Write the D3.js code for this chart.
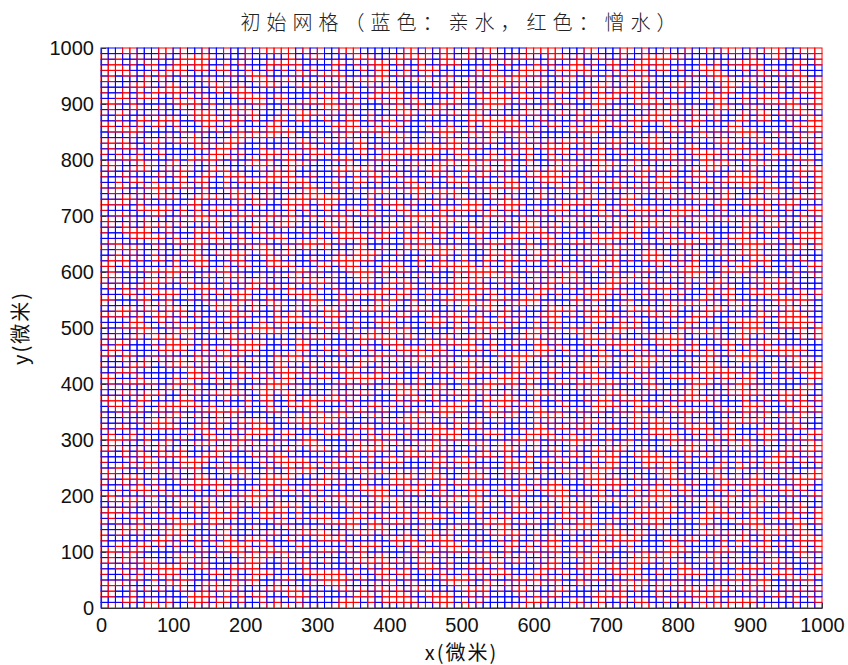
<!DOCTYPE html>
<html><head><meta charset="utf-8">
<script src="https://cdn.jsdelivr.net/npm/d3@7/dist/d3.min.js"></script>
<style>
html,body{margin:0;padding:0;background:#fff;}
svg{display:block;}
.tick text{font-family:"Liberation Sans",Arial,sans-serif;font-size:20px;fill:#111;}
</style></head>
<body>
<script>
// Chart text
const titleText = "初始网格（蓝色：亲水，红色：憎水）";
const xLabelText = "x(微米)";
const yLabelText = "y(微米)";
const xTicks = [0,100,200,300,400,500,600,700,800,900,1000];
const yTicks = [0,100,200,300,400,500,600,700,800,900,1000];
const cellSize = 10; // micrometres
const nCells = 100;
// Cell types, one row per y (bottom row first), hex-encoded: bit 1 = blue (亲水), 0 = red (憎水)
const cellRows = [
"9c3a7e150bd24f86a1e7c093d","e4b12d6f8a0c57e39b4d2a1f6","37f0a9c5e2186bd4f07ac3e95","b56d1e0f94a3c28e7d5b1096a",
"0e8c4b7a3d6f1952ce08ab47d","f2a7d39c165e0b84d3af7c261","6b1e58f02c9ad4736e1b0f58c","d409c3b7ea5162f8c49d3b0ae",
"28e5f1a6d0b37c94e2856af1d","a7c3609be4d2f15a87c0e36b9","13fd8a2c57e90b64d1ac38f72","c95b04e7d1a63f2890be7d45a",
"7e2a91dc3f0856b4ea1c9d370","4b8f3e60a2d97c15b84fe2a09","e1069bd5c8f32a7e04d96bc13","5ac27f3e091bd846c5a3e70f2",
"b39e14a8c6d0f57b2e91a4c86","0d7a5c2fe913b68d47c0f15ea","f6c28b0d45ae73910f6cb28d3","82e4d17a9c3f05be68a1d4c7f",
"3c9f60eb28d4a71c5390be6a4","d17b3a95f0c6e2487ad1395cb","6ae05c38b7129fd4e06a5c831","a2d9f41e6b08c357a2dcf94e0",
"1f5b86c3d0a9e74b21f8b36dc","c8a34e9217fd5b0ec8a4e932f","74e1bd056a3c8f2974e0bd51a","e90c7a3f8b42d16e90c3a7f85",
"2b6f15d8e0c97a34b26f1d5e8","9d38ca61f4b0e2579d3c8a164","05ae27b3c96d1f8405ae72b39","b7f4d09e2a5c38e1b7f0d4e2c",
"4c1968f5b3e0a7d24c9186f53","fa3d21c07e8b96f5a3d12c0e7","6e8b5fa419c27d306e85bfa41","d35c0e79a6f418b2d35e0c97a",
"8b02f6c3d95e1a4770c2fb8e1","19e7b4d02fa5c836e91d07b4a","e46a0c9f538d2b71f46e9a0c3","5f93d82b6e04c1a7d5f38e2b9",
"a0c75e1f93b6d82e40a7c51fd","3bd16a94c0f78e25b3d6149ac","c7f2e50b8d3a6194c72fe05b8","7185cf3a26ed0b9f4185c3fa2",
"ed493b07f1a2c68de943b70f1","26ba8f4d9c517e03a9d5e20c7","9f0d23e6ab84c5f17b2e96d03","4e85c1a7f6390db2e4185ca7f",
"b2179fe8d04a63c5e1f07b39a","d8c64037a91fb5e28c6d4307a","61a3f8bc2e5d9074a61f3b8c2","f35e9d016c78a2b4f35d9e0c1",
"0a2bc74e3f9d1658a0b2c7e43","c48f1b6a50e3d97c2b84f16a5","7d3e0a29bc6f4185d73e0a2cb","39b5e6f18d2a0c4793b5e6f81",
"e61d47c3a09b85f2e16d74c3a","a8f0b25d7e4c1369a8f0b2d57","5c27a9e0f31b86d45c27a9e0f","1e9c8d4b62f7a0351e9c8d4b6",
"b4073fe5c29d816ab4e70c3f5","2fd9a61c8e340b7d52fa9d16c","8a51ce7b03f6d924e8a15ec7b","d6e3049fa1b85c72d6e3490af",
"437bf8d2e6c019a5f437bd8e2","9ec125a0b7d3f46c89ec1502a","f05a6e3d84c2b719f05ae63d8","61b8d9f70a54e3c2b61d8f970",
"ac2f7b1e5d096a84cac27fb1e","35d04c8a9fe21b673d50c48a9","ce69e25b3140f8dac96e2b53a","782a1fd6cb9e05347a821df6c",
"0bf3e9847a2dc61f0b3fe9847","e5184ac03bf69d72e51a84cb0","9a7dc6f1e84035bb97ad6cf1e","4c05bd932fa7e8164c50db932",
"d2e9a04765cb1f38d2e9a4076","6f4c8e1ba93d52e06f48ce1ba","b1a63d5f02e8c974b1a6d35f0","1896f0c7dba4236e189f60c7d",
"e3d05a9b1c7f486ce3d0a59b1","5b7e2c48f6019dad5b7ec248f","a6f91db3e5c027486af19d3be","0c428fe6a73b19d50c42f8e6a",
"f7b3c05d9e1a648ff7b3c50d9","83ed6a1b40fc295783de6a1b4","2a5c9e7f0d3b6814a25c9e7f0","d9184b26ca5fe03bd9814b26c",
"4ef0d3a15b8927c64ef0d3a51","b36a85ce2f14d0e9b36a58ce2","17c2f9b04ea6385d71c2f9b04","c8d5e13a692fb04ac8d5e1a36",
"6a0b47fd8c3e159e6a0b74fd8","f19e2c605b7da843f19e2c650","3d74b89fa0e26c1b3d47b89fa","a52fd1e43c9b7086a52fd1e43",
"0e8936ab74d1f5c20e8963ab7","94c1ae0f28b63d7594c1ea0f2","5b60f7d9e3024a8c5b607fd9e","e72db4158fca69e0e72db4518"
];
const typeColors = {blue:"#0000ff", red:"#ff0000"};

// Build the cell table from the rows
const cells = [];
cellRows.forEach((row, j) => {
  for (let i = 0; i < nCells; i++) {
    const nib = parseInt(row[Math.floor(i/4)] || "0", 16);
    const bit = (nib >> (3 - (i % 4))) & 1;
    cells.push({x: i*cellSize, y: j*cellSize, type: bit ? "blue" : "red"});
  }
});

const W = 848, H = 665;
const m = {left:101, right:26, top:48, bottom:57};
const svg = d3.select("body").append("svg").attr("width", W).attr("height", H);

const x = d3.scaleLinear().domain([0,1000]).range([m.left, W - m.right]);
const y = d3.scaleLinear().domain([0,1000]).range([H - m.bottom, m.top]);

// cells
svg.append("g").selectAll("rect").data(cells).join("rect")
  .attr("x", d => x(d.x))
  .attr("y", d => y(d.y + cellSize))
  .attr("width", d => x(d.x + cellSize) - x(d.x))
  .attr("height", d => y(d.y) - y(d.y + cellSize))
  .attr("fill", "none")
  .attr("stroke", d => typeColors[d.type])
  .attr("stroke-width", 1);

// axes
const xAxis = svg.append("g").attr("transform", `translate(0,${H - m.bottom})`)
  .call(d3.axisBottom(x).tickValues(xTicks).tickFormat(d3.format("d")).tickSizeInner(-5).tickSizeOuter(0).tickPadding(10));
const yAxis = svg.append("g").attr("transform", `translate(${m.left},0)`)
  .call(d3.axisLeft(y).tickValues(yTicks).tickFormat(d3.format("d")).tickSizeInner(-5).tickSizeOuter(0).tickPadding(7));
[xAxis, yAxis].forEach(g => {
  g.select(".domain").attr("stroke", "#333").attr("stroke-width", 1.2);
  g.selectAll(".tick line").attr("stroke", "#333");
});

const cjk = '"Noto Sans CJK SC","Liberation Sans",sans-serif';
svg.append("text").attr("x", (x(0)+x(1000))/2).attr("y", 30)
  .attr("text-anchor","middle").attr("font-family", cjk).attr("font-size", 20)
  .attr("font-weight", 300).attr("letter-spacing", 6).attr("fill","#222").text(titleText);

svg.append("text").attr("x", (x(0)+x(1000))/2).attr("y", 660)
  .attr("text-anchor","middle").attr("font-family", cjk).attr("font-size", 20)
  .attr("letter-spacing", 2).attr("fill","#111").text(xLabelText);

svg.append("text").attr("transform", `translate(28,${(y(0)+y(1000))/2}) rotate(-90)`)
  .attr("text-anchor","middle").attr("font-family", cjk).attr("font-size", 20)
  .attr("letter-spacing", 2).attr("fill","#111").text(yLabelText);
</script>
</body></html>
